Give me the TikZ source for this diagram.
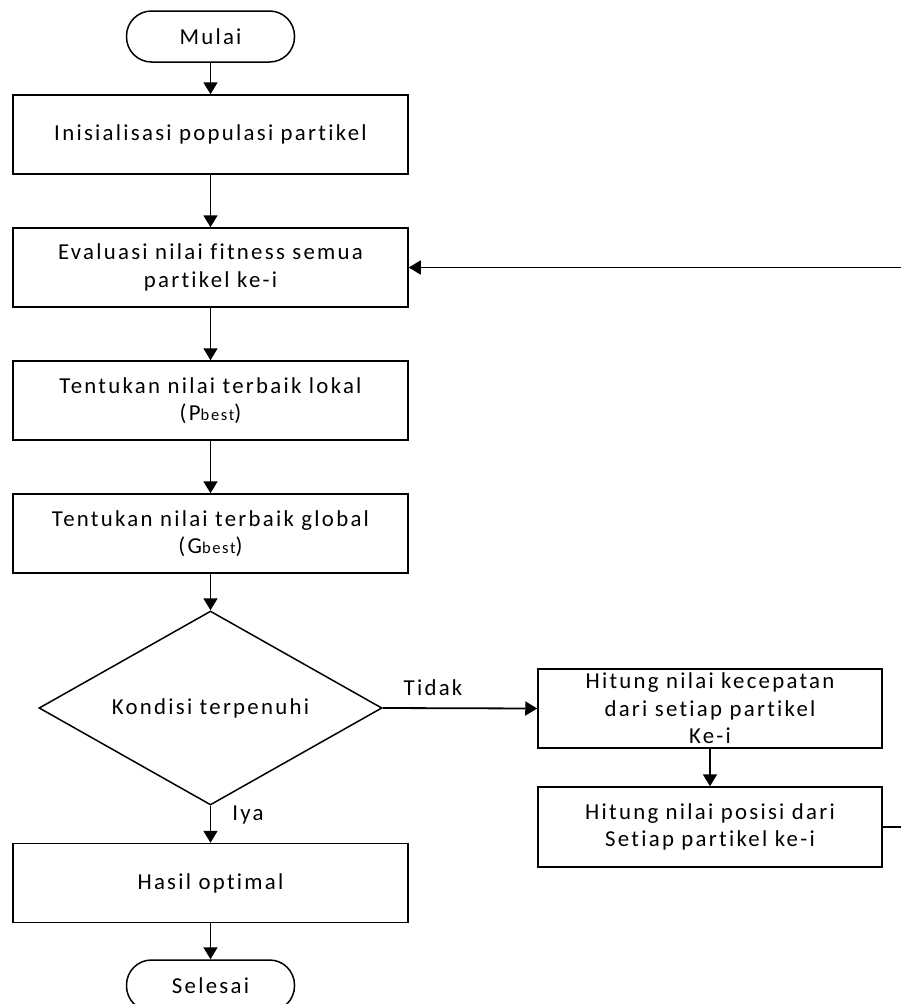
\documentclass[tikz,border=0pt]{standalone}
\usepackage{fontspec}
\setmainfont{Carlito}[LetterSpace=10, Ligatures={NoCommon}]
\usetikzlibrary{shapes.geometric,arrows.meta}
\begin{document}
\begin{tikzpicture}[x=1pt,y=-1pt,
  every node/.style={font=\fontsize{22.8}{27.5}\selectfont, align=center, inner sep=0pt},
  procbox/.style={draw, line width=1.5pt, minimum width=395pt, minimum height=79pt},
  sidebox/.style={draw, line width=1.5pt, minimum width=344pt, minimum height=79pt},
  terminal/.style={draw, line width=1.5pt, rounded corners=25pt, minimum width=168pt, minimum height=51pt},
  decision/.style={draw, diamond, line width=1.5pt, aspect=1.77, minimum width=343pt, minimum height=194pt},
  flow/.style={line width=1.8pt, -{Triangle[width=14pt,length=12pt]}},
  plain/.style={line width=1.8pt}
]
\clip (0,0) rectangle (901,1004);
\fill[white] (0,0) rectangle (901,1004);

% main column
\node[terminal] (mulai) at (210.5,36.5) {Mulai};
\node[procbox] (init) at (210.5,134.5) {Inisialisasi populasi partikel};
\node[procbox] (eval) at (210.5,267.5) {Evaluasi nilai fitness semua\\partikel ke-i};
\node[procbox] (pbest) at (210.5,400.5) {Tentukan nilai terbaik lokal\\(P{\fontsize{16.5}{18}\selectfont best})};
\node[procbox] (gbest) at (210.5,533.5) {Tentukan nilai terbaik global\\(G{\fontsize{16.5}{18}\selectfont best})};
\node[decision] (cond) at (210.5,708) {Kondisi terpenuhi};
\node[procbox] (hasil) at (210.5,883) {Hasil optimal};
\node[terminal] (selesai) at (210.5,985.5) {Selesai};

% update branch
\node[sidebox] (vel) at (710,708.5) {Hitung nilai kecepatan\\dari setiap partikel\\Ke-i};
\node[sidebox, minimum height=80pt] (pos) at (710,827) {Hitung nilai posisi dari\\Setiap partikel ke-i};

% loop-back ends at the right border
\coordinate (loopout) at (901,827);
\coordinate (loopin) at (901,267.5);

% connectors
\draw[flow] (mulai) -- (init);
\draw[flow] (init) -- (eval);
\draw[flow] (eval) -- (pbest);
\draw[flow] (pbest) -- (gbest);
\draw[flow] (gbest) -- (cond);
\draw[flow] (cond) -- (hasil);
\draw[flow] (hasil) -- (selesai);
\draw[flow] (cond.east) -- (vel.west);
\draw[flow] (vel) -- (pos);
\draw[plain] (pos.east) -- (loopout);
\draw[flow] (loopin) -- (eval.east);

% branch labels
\node (tidak) at (433,688) {Tidak};
\node (iya) at (248,815) {Iya};
\end{tikzpicture}
\end{document}
